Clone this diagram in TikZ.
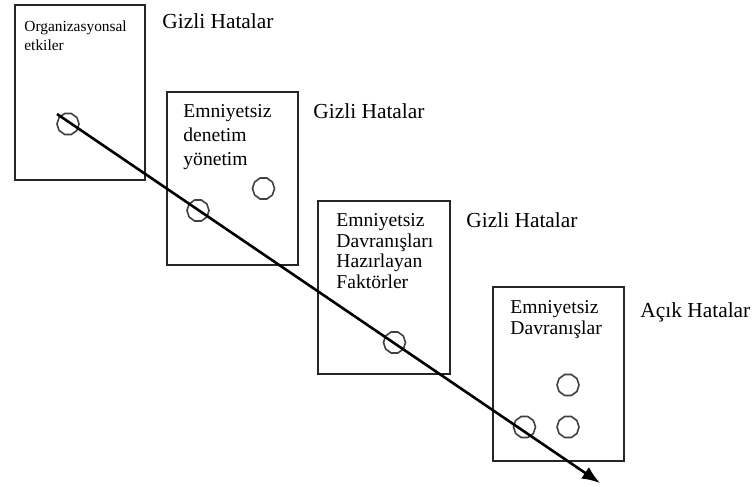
\documentclass[tikz,border=0pt]{standalone}
\usepackage{fontspec}
\setmainfont{Liberation Serif}
\usetikzlibrary{shapes.geometric,arrows.meta}
\begin{document}
\begin{tikzpicture}[x=0.5pt,y=-0.5pt,
  layer/.style={draw=black!85,line width=0.9pt,fill=white,inner sep=0pt},
  hole/.style={draw=black!75,line width=0.8pt,regular polygon,regular polygon sides=10,
    minimum size=11pt,inner sep=0pt},
  boxtext/.style={anchor=base west,align=left,inner sep=0pt},
  errlabel/.style={anchor=base west,inner sep=0pt,font=\fontsize{10.7}{13}\selectfont},
  path line/.style={line width=1.3pt,-{Latex[length=9pt,width=7pt]}}]
\useasboundingbox (0,0) rectangle (753,486);
% the four layers
\node[layer,minimum width=65pt,minimum height=87.5pt,anchor=north west] (L1) at (14,4) {};
\node[layer,minimum width=65.5pt,minimum height=86.5pt,anchor=north west] (L2) at (166,91) {};
\node[layer,minimum width=66pt,minimum height=86.5pt,anchor=north west] (L3) at (317,200) {};
\node[layer,minimum width=65.5pt,minimum height=87pt,anchor=north west] (L4) at (492,286) {};
% layer texts (anchored at the baseline of their last line)
\node[boxtext,font=\fontsize{7.7}{9.3}\selectfont] (T1) at (24,50.5) {Organizasyonsal\\etkiler};
\node[boxtext,font=\fontsize{9.8}{12}\selectfont] (T2) at (183,166) {Emniyetsiz\\denetim\\yönetim};
\node[boxtext,font=\fontsize{9.8}{10.3}\selectfont] (T3) at (336,288.5) {Emniyetsiz\\Davranışları\\Hazırlayan\\Faktörler};
\node[boxtext,font=\fontsize{9.8}{10.1}\selectfont] (T4) at (510,334) {Emniyetsiz\\Davranışlar};
% side labels
\node[errlabel] (E1) at (162,28.5) {Gizli Hatalar};
\node[errlabel] (E2) at (313,119) {Gizli Hatalar};
\node[errlabel] (E3) at (466,227) {Gizli Hatalar};
\node[errlabel] (E4) at (640,317) {Açık Hatalar};
% holes
\node[hole] (H1) at (68,124) {};
\node[hole] (H2a) at (263.5,188.5) {};
\node[hole] (H2b) at (198,210.5) {};
\node[hole] (H3) at (394.5,342.5) {};
\node[hole] (H4a) at (568,385) {};
\node[hole] (H4b) at (568,427) {};
\node[hole] (H4c) at (524.5,427) {};
% trajectory through the holes
\coordinate (start) at (57,114);
\coordinate (finish) at (600,483);
\draw[path line] (start) -- (finish);
\end{tikzpicture}
\end{document}
